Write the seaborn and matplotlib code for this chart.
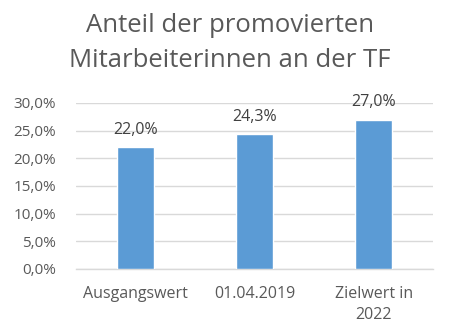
import matplotlib
matplotlib.use("Agg")
import matplotlib.pyplot as plt
import seaborn as sns
import pandas as pd
from matplotlib.ticker import FuncFormatter

categories = ["Ausgangswert", "01.04.2019", "Zielwert in\n2022"]
values = [0.220, 0.243, 0.270]
value_labels = ["22,0%", "24,3%", "27,0%"]
yticks = [0.0, 0.05, 0.10, 0.15, 0.20, 0.25, 0.30]

df = pd.DataFrame({"Kategorie": categories, "Anteil": values})

sns.set_theme(style="white")
plt.rcParams["font.family"] = ["Open Sans", "DejaVu Sans"]

fig = plt.figure(figsize=(4.54, 3.32), dpi=100)
ax = fig.add_axes([0.167, 0.19, 0.787, 0.5])

sns.barplot(data=df, x="Kategorie", y="Anteil", color="#5b9bd5",
            width=0.31, saturation=1, ax=ax, zorder=3)

ax.set_ylim(0, 0.30)
ax.set_yticks(yticks)
ax.yaxis.set_major_formatter(FuncFormatter(lambda v, p: f"{v*100:.1f}%".replace(".", ",")))
ax.grid(axis="y", color="#d9d9d9", linewidth=1, zorder=0)
ax.set_axisbelow(True)
for s in ["top", "right", "left"]:
    ax.spines[s].set_visible(False)
ax.spines["bottom"].set_color("#d9d9d9")
ax.spines["bottom"].set_linewidth(1)
ax.set_xlabel("")
ax.set_ylabel("")
ax.tick_params(axis="y", length=0, labelsize=11, colors="#595959", pad=14)
ax.tick_params(axis="x", length=0, labelsize=11.5, colors="#595959", pad=12)
for t in ax.get_xticklabels():
    t.set_linespacing(1.45)

for i, (v, lab) in enumerate(zip(values, value_labels)):
    ax.text(i, v + 0.017, lab, ha="center", va="bottom", fontsize=11.5, color="#404040")

fig.text(0.507, 0.962, "Anteil der promovierten\nMitarbeiterinnen an der TF",
         ha="center", va="top", fontsize=18.5, color="#595959", linespacing=1.55)

fig.savefig("out.png", dpi=100)
